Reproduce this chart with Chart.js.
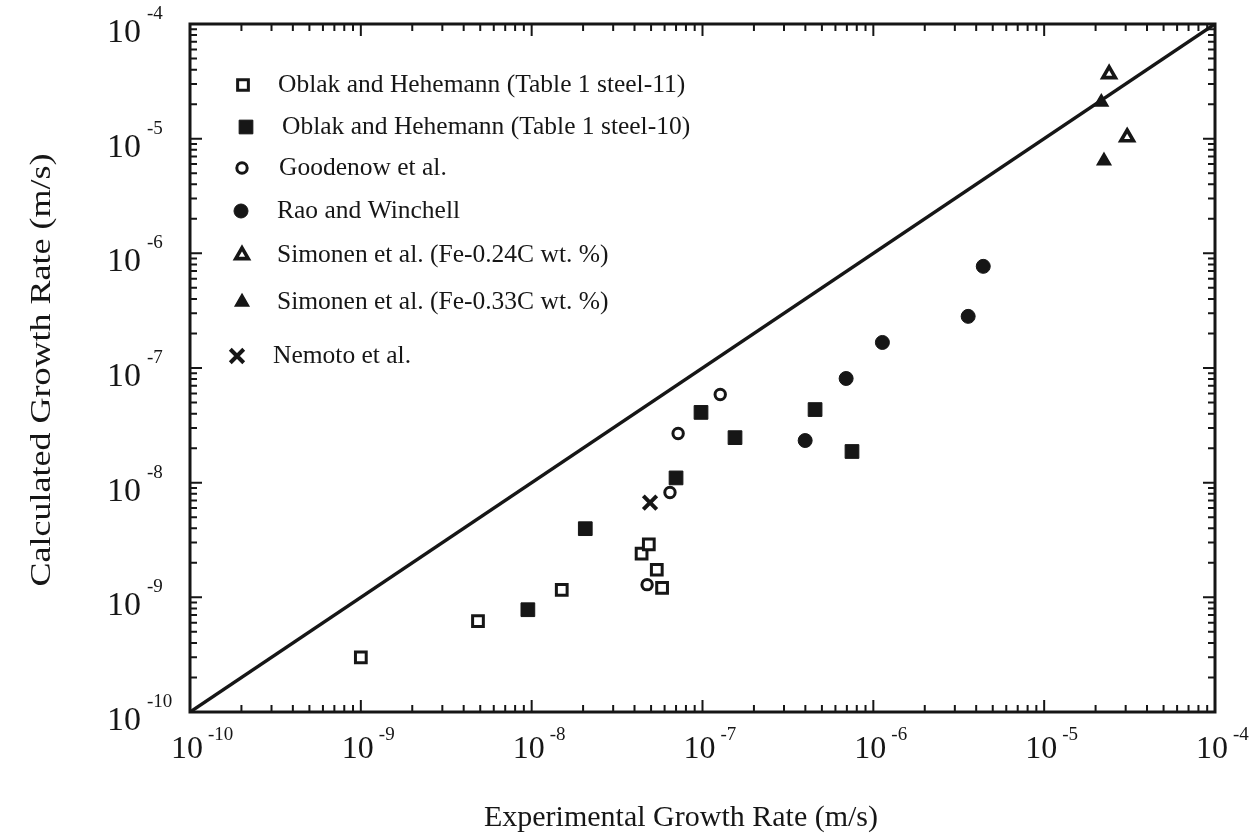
<!DOCTYPE html>
<html>
<head>
<meta charset="utf-8">
<script src="https://cdn.jsdelivr.net/npm/chart.js@4/dist/chart.umd.min.js"></script>
<style>
html, body { margin: 0; padding: 0; background: #ffffff; }
#wrap { width: 1259px; height: 837px; }
</style>
</head>
<body>
<div id="wrap"><canvas id="c" width="1259" height="837"></canvas></div>
<script>
// ---------------- data ----------------
const decadeExponents = [-10, -9, -8, -7, -6, -5, -4];
const xTitle = 'Experimental Growth Rate (m/s)';
const yTitle = 'Calculated Growth Rate (m/s)';

const seriesLabels = [
  'Oblak and Hehemann (Table 1 steel-11)',
  'Oblak and Hehemann (Table 1 steel-10)',
  'Goodenow et al.',
  'Rao and Winchell',
  'Simonen et al. (Fe-0.24C wt. %)',
  'Simonen et al. (Fe-0.33C wt. %)',
  'Nemoto et al.'
];

const steel11X = [1.0e-9, 4.85e-9, 1.5e-8, 4.4e-8, 4.85e-8, 5.4e-8, 5.8e-8];
const steel11Y = [3.0e-10, 6.2e-10, 1.16e-9, 2.4e-9, 2.9e-9, 1.74e-9, 1.21e-9];

const steel10X = [9.5e-9, 2.06e-8, 7.0e-8, 9.8e-8, 1.55e-7, 4.56e-7, 7.5e-7];
const steel10Y = [7.8e-10, 3.97e-9, 1.1e-8, 4.1e-8, 2.47e-8, 4.34e-8, 1.87e-8];

const goodenowX = [4.74e-8, 6.45e-8, 7.2e-8, 1.27e-7];
const goodenowY = [1.29e-9, 8.2e-9, 2.68e-8, 5.87e-8];

const raoX = [3.99e-7, 6.93e-7, 1.13e-6, 3.59e-6, 4.4e-6];
const raoY = [2.33e-8, 8.1e-8, 1.67e-7, 2.82e-7, 7.7e-7];

const simonen24X = [2.4e-5, 3.06e-5];
const simonen24Y = [3.66e-5, 1.03e-5];

const simonen33X = [2.16e-5, 2.24e-5];
const simonen33Y = [2.08e-5, 6.4e-6];

const nemotoX = [4.93e-8];
const nemotoY = [6.7e-9];

const identityX = [1e-10, 1e-4];
const identityY = [1e-10, 1e-4];

// ---------------- styling ----------------
const INK = '#161616';
const SERIF = '"Liberation Serif", "DejaVu Serif", serif';

function pts(xs, ys) { return xs.map((v, i) => ({ x: v, y: ys[i] })); }

const markerStyles = [
  { pointStyle: 'rect',     radius: 7.6, fill: '#ffffff', bw: 3 },
  { pointStyle: 'rect',     radius: 9.7, fill: INK,       bw: 1 },
  { pointStyle: 'circle',   radius: 5.2, fill: '#ffffff', bw: 3 },
  { pointStyle: 'circle',   radius: 7,   fill: INK,       bw: 1 },
  { pointStyle: 'triangle', radius: 7.2, fill: '#ffffff', bw: 3.6 },
  { pointStyle: 'triangle', radius: 7.8, fill: INK,       bw: 1.5 },
  { pointStyle: 'crossRot', radius: 9.5, fill: INK,       bw: 4 }
];
const seriesData = [
  pts(steel11X, steel11Y), pts(steel10X, steel10Y), pts(goodenowX, goodenowY),
  pts(raoX, raoY), pts(simonen24X, simonen24Y), pts(simonen33X, simonen33Y),
  pts(nemotoX, nemotoY)
];

const datasets = [{
  label: 'identity',
  data: pts(identityX, identityY),
  showLine: true,
  borderColor: INK,
  borderWidth: 3.5,
  pointRadius: 0,
  fill: false,
  order: 10
}];
seriesLabels.forEach((lab, i) => {
  const m = markerStyles[i];
  datasets.push({
    label: lab,
    data: seriesData[i],
    pointStyle: m.pointStyle,
    pointRadius: m.radius,
    pointBackgroundColor: m.fill,
    pointBorderColor: INK,
    pointBorderWidth: m.bw,
    showLine: false,
    order: 1
  });
});

// legend placement (inside plot, top-left)
const legendRows = [
  { mx: 243, my: 85,  tx: 278 },
  { mx: 246, my: 127, tx: 282 },
  { mx: 242, my: 168, tx: 279 },
  { mx: 241, my: 211, tx: 277 },
  { mx: 242, my: 255, tx: 277 },
  { mx: 242, my: 302, tx: 277 },
  { mx: 237, my: 356, tx: 273 }
];

const framePlugin = {
  id: 'frameTicks',
  afterDraw(chart) {
    const { ctx, chartArea: a, scales } = chart;
    const xs = scales.x, ys = scales.y;
    ctx.save();
    ctx.strokeStyle = INK;
    ctx.fillStyle = INK;
    // frame
    ctx.lineWidth = 3;
    ctx.strokeRect(a.left, a.top, a.right - a.left, a.bottom - a.top);
    // inward ticks on all four sides
    ctx.lineWidth = 2;
    ctx.beginPath();
    for (let e = decadeExponents[0]; e < decadeExponents[decadeExponents.length - 1]; e++) {
      for (let m = 1; m <= 9; m++) {
        const v = m * Math.pow(10, e);
        const len = (m === 1) ? 12 : 7;
        const px = xs.getPixelForValue(v);
        const py = ys.getPixelForValue(v);
        ctx.moveTo(px, a.bottom); ctx.lineTo(px, a.bottom - len);
        ctx.moveTo(px, a.top);    ctx.lineTo(px, a.top + len);
        ctx.moveTo(a.left, py);   ctx.lineTo(a.left + len, py);
        ctx.moveTo(a.right, py);  ctx.lineTo(a.right - len, py);
      }
    }
    ctx.stroke();

    // tick labels: 10 with superscript exponent
    const xBaseFont = '32px ' + SERIF;
    const yBaseFont = '34px ' + SERIF;
    const supFont = '19px ' + SERIF;
    ctx.textBaseline = 'alphabetic';
    ctx.textAlign = 'left';
    decadeExponents.forEach(e => {
      const v = Math.pow(10, e);
      // x axis
      const px = xs.getPixelForValue(v);
      ctx.font = xBaseFont;
      const wx = ctx.measureText('10').width;
      ctx.fillText('10', px - wx / 2 - 3, 758);
      ctx.font = supFont;
      ctx.fillText(String(e), px + wx / 2 + 2, 740);
      // y axis
      const py = ys.getPixelForValue(v);
      ctx.font = yBaseFont;
      const wy = ctx.measureText('10').width;
      ctx.fillText('10', 107, py + 18);
      ctx.font = supFont;
      ctx.fillText(String(e), 107 + wy + 6, py - 5);
    });

    // axis titles
    ctx.font = '30px ' + SERIF;
    ctx.textAlign = 'center';
    ctx.textBaseline = 'middle';
    ctx.fillText(xTitle, 681, 818);
    ctx.save();
    ctx.translate(42, 370);
    ctx.rotate(-Math.PI / 2);
    ctx.scale(1.2, 1);
    ctx.fillText(yTitle, 0, 0);
    ctx.restore();

    // legend
    ctx.font = '25.5px ' + SERIF;
    ctx.textAlign = 'left';
    ctx.textBaseline = 'middle';
    seriesLabels.forEach((lab, i) => {
      const r = legendRows[i];
      const m = markerStyles[i];
      ctx.fillStyle = m.fill;
      ctx.strokeStyle = INK;
      ctx.lineWidth = m.bw;
      Chart.helpers.drawPoint(ctx, { pointStyle: m.pointStyle, radius: m.radius, rotation: 0, borderWidth: m.bw }, r.mx, r.my);
      ctx.fillStyle = INK;
      ctx.fillText(lab, r.tx, r.my);
    });
    ctx.restore();
  }
};

new Chart(document.getElementById('c'), {
  type: 'scatter',
  data: { datasets },
  options: {
    responsive: false,
    animation: false,
    devicePixelRatio: 1,
    events: [],
    layout: { padding: { left: 0, right: 44, top: 24, bottom: 0 } },
    plugins: { legend: { display: false }, tooltip: { enabled: false } },
    scales: {
      x: {
        type: 'logarithmic',
        min: 1e-10, max: 1e-4,
        grid: { display: false },
        border: { display: false },
        ticks: { display: false },
        afterFit(scale) { scale.height = 125; }
      },
      y: {
        type: 'logarithmic',
        min: 1e-10, max: 1e-4,
        grid: { display: false },
        border: { display: false },
        ticks: { display: false },
        afterFit(scale) { scale.width = 190; }
      }
    }
  },
  plugins: [framePlugin]
});
</script>
</body>
</html>
